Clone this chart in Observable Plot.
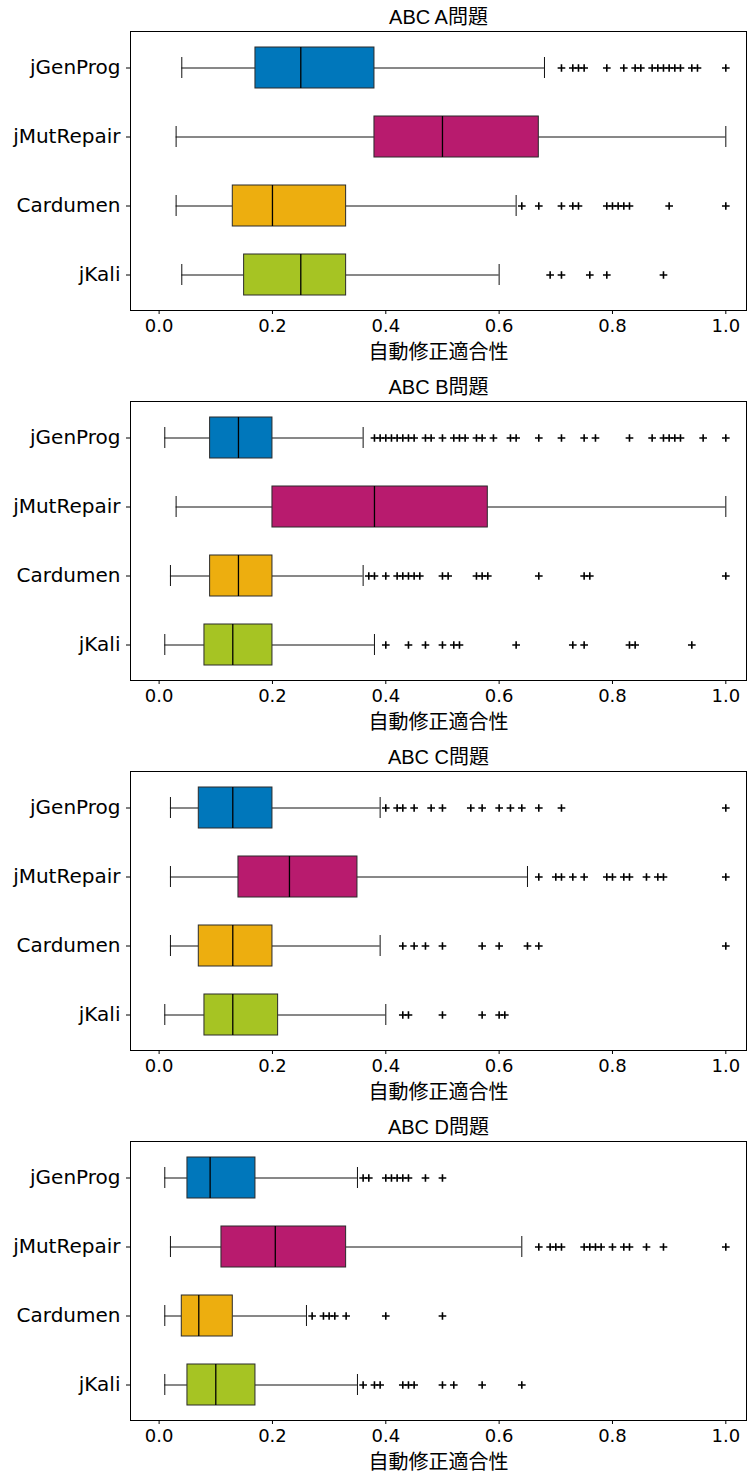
<!DOCTYPE html>
<html><head><meta charset="utf-8">
<script src="https://cdn.jsdelivr.net/npm/d3@7"></script>
<script src="https://cdn.jsdelivr.net/npm/@observablehq/plot@0.6"></script>
<style>body{margin:0;background:#fff} svg{display:block}</style>
</head><body><div id="chart"></div>
<script>
const tools = ["jGenProg", "jMutRepair", "Cardumen", "jKali"];
const colors = ["#0077BB", "#B81B6E", "#EDAE0F", "#A6C423"];
const titles = ["ABC A問題", "ABC B問題", "ABC C問題", "ABC D問題"];
const xLabel = "自動修正適合性";
const xTicks = [0, 0.2, 0.4, 0.6, 0.8, 1.0];

// per tool: [whisker low, Q1, median, Q3, whisker high]
const statsA = [[0.04,0.17,0.25,0.38,0.68],[0.03,0.38,0.50,0.67,1.0],[0.03,0.13,0.20,0.33,0.63],[0.04,0.15,0.25,0.33,0.60]];
const outliersA = [
  [0.71,0.73,0.74,0.75,0.79,0.82,0.84,0.85,0.87,0.88,0.89,0.90,0.91,0.92,0.94,0.95,1.0],
  [],
  [0.64,0.67,0.71,0.73,0.74,0.79,0.80,0.81,0.82,0.83,0.90,1.0],
  [0.69,0.71,0.76,0.79,0.89]
];
const statsB = [[0.01,0.09,0.14,0.20,0.36],[0.03,0.20,0.38,0.58,1.0],[0.02,0.09,0.14,0.20,0.36],[0.01,0.08,0.13,0.20,0.38]];
const outliersB = [
  [0.38,0.39,0.40,0.41,0.42,0.43,0.44,0.45,0.47,0.48,0.50,0.52,0.53,0.54,0.56,0.57,0.59,0.62,0.63,0.67,0.71,0.75,0.77,0.83,0.87,0.89,0.90,0.91,0.92,0.96,1.0],
  [],
  [0.37,0.38,0.40,0.42,0.43,0.44,0.45,0.46,0.50,0.51,0.56,0.57,0.58,0.67,0.75,0.76,1.0],
  [0.40,0.44,0.47,0.50,0.52,0.53,0.63,0.73,0.75,0.83,0.84,0.94]
];
const statsC = [[0.02,0.07,0.13,0.20,0.39],[0.02,0.14,0.23,0.35,0.65],[0.02,0.07,0.13,0.20,0.39],[0.01,0.08,0.13,0.21,0.40]];
const outliersC = [
  [0.40,0.42,0.43,0.45,0.48,0.50,0.55,0.57,0.60,0.62,0.64,0.67,0.71,1.0],
  [0.67,0.70,0.71,0.73,0.75,0.79,0.80,0.82,0.83,0.86,0.88,0.89,1.0],
  [0.43,0.45,0.47,0.50,0.57,0.60,0.65,0.67,1.0],
  [0.43,0.44,0.50,0.57,0.60,0.61]
];
const statsD = [[0.01,0.05,0.09,0.17,0.35],[0.02,0.11,0.205,0.33,0.64],[0.01,0.04,0.07,0.13,0.26],[0.01,0.05,0.10,0.17,0.35]];
const outliersD = [
  [0.36,0.37,0.40,0.41,0.42,0.43,0.44,0.47,0.50],
  [0.67,0.69,0.70,0.71,0.75,0.76,0.77,0.78,0.80,0.82,0.83,0.86,0.89,1.0],
  [0.27,0.29,0.30,0.31,0.33,0.40,0.50],
  [0.36,0.38,0.39,0.43,0.44,0.45,0.50,0.52,0.57,0.64]
];

const panels = [
  [titles[0], statsA, outliersA, 370],
  [titles[1], statsB, outliersB, 370],
  [titles[2], statsC, outliersC, 370],
  [titles[3], statsD, outliersD, 366]
];

const cjk = "'Liberation Sans', 'Noto Sans CJK JP', sans-serif";

function panel(title, stats, outliers, height) {
  const boxes = tools.map((t, i) => ({tool: t, low: stats[i][0], q1: stats[i][1], med: stats[i][2], q3: stats[i][3], high: stats[i][4]}));
  const pts = tools.flatMap((t, i) => outliers[i].map(v => ({tool: t, value: v})));
  const wc = "#111";
  return Plot.plot({
    width: 747, height,
    marginLeft: 130, marginRight: 1, marginTop: 31, marginBottom: height - 310,
    x: {domain: [-0.0505, 1.0365]},
    y: {domain: tools, padding: 0},
    color: {domain: tools, range: colors},
    style: {fontFamily: "'DejaVu Sans', sans-serif", background: "white", color: "black"},
    marks: [
      Plot.ruleY(boxes, {y: "tool", x1: "low", x2: "q1", stroke: wc, strokeWidth: 1}),
      Plot.ruleY(boxes, {y: "tool", x1: "q3", x2: "high", stroke: wc, strokeWidth: 1}),
      Plot.tickX(boxes, {x: "low", y: "tool", insetTop: 24, insetBottom: 24, stroke: wc, strokeWidth: 1}),
      Plot.tickX(boxes, {x: "high", y: "tool", insetTop: 24, insetBottom: 24, stroke: wc, strokeWidth: 1}),
      Plot.barX(boxes, {x1: "q1", x2: "q3", y: "tool", fill: "tool", insetTop: 14, insetBottom: 14, stroke: "#2a2a2a", strokeWidth: 1}),
      Plot.tickX(boxes, {x: "med", y: "tool", insetTop: 14, insetBottom: 14, stroke: "#000", strokeWidth: 1.3}),
      Plot.dot(pts, {x: "value", y: "tool", symbol: "plus", r: 2.6, stroke: "black", strokeWidth: 1.6}),
      Plot.frame({stroke: "black", strokeWidth: 1}),
      Plot.axisY({tickSize: 4, tickPadding: 6, fontSize: 20, label: null}),
      Plot.axisX({ticks: xTicks, tickFormat: d3.format(".1f"), tickSize: 4, tickPadding: 5, fontSize: 18, label: null}),
      Plot.text([title], {text: d => d, frameAnchor: "top", lineAnchor: "middle", dy: -14, fontSize: 20, fontFamily: cjk}),
      Plot.text([xLabel], {text: d => d, frameAnchor: "bottom", lineAnchor: "middle", dy: 42, fontSize: 20, fontFamily: cjk})
    ]
  });
}

const root = document.getElementById("chart");
for (const [t, s, o, h] of panels) root.appendChild(panel(t, s, o, h));
</script>
</body></html>
